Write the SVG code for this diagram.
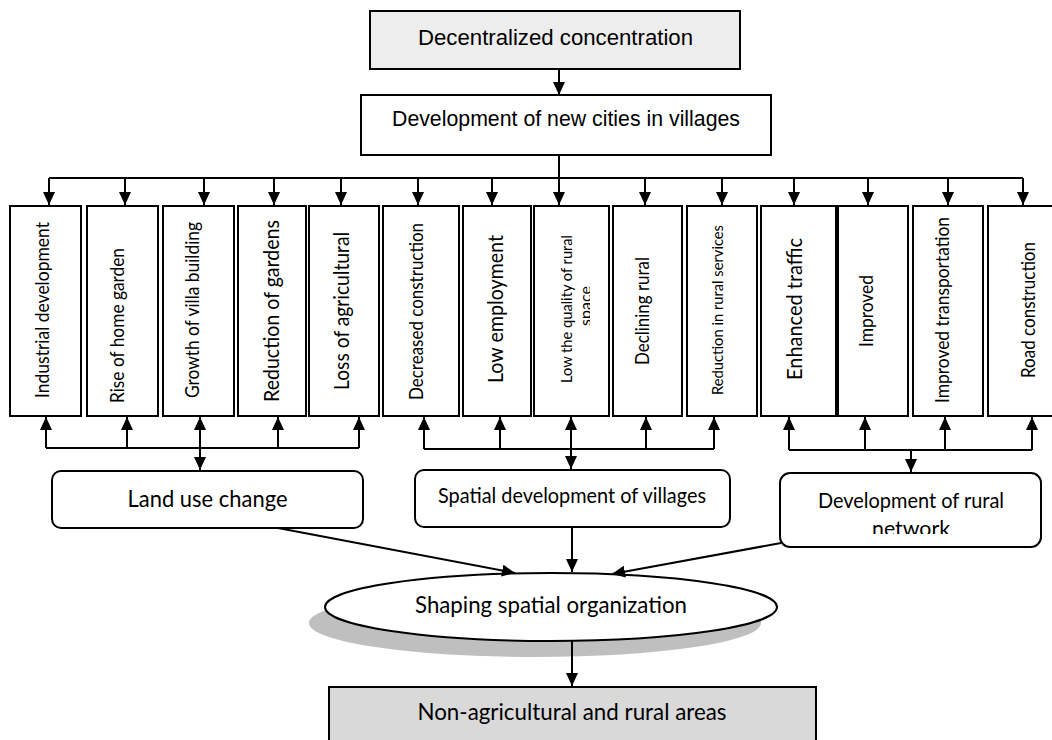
<svg xmlns="http://www.w3.org/2000/svg" width="1052" height="740" viewBox="0 0 1052 740">
<style>
.box{fill:#fff;stroke:#000;stroke-width:2}
.rbox{fill:#fff;stroke:#000;stroke-width:2}
.arial{font-family:"Liberation Sans",Arial,sans-serif;fill:#000}
.cal{font-family:Lato,"Open Sans",sans-serif;fill:#000}
.c{stroke:#000;stroke-width:2;fill:none}
</style>
<defs>
<marker id="ah" viewBox="0 0 13 12" refX="13" refY="6" markerWidth="13" markerHeight="12" markerUnits="userSpaceOnUse" orient="auto">
<path d="M0,0 L13,6 L0,12 z" fill="#000"/>
</marker>
<clipPath id="clip8"><rect x="534" y="206" width="56" height="210"/></clipPath>
<clipPath id="clipNet"><rect x="780" y="473" width="261" height="61"/></clipPath>
</defs>

<g id="n-decentralized">
<rect x="370" y="11" width="370" height="58" fill="#ededed" stroke="#000" stroke-width="2"/>
<text class="arial" x="555.5" y="45" font-size="22" text-anchor="middle" textLength="275" lengthAdjust="spacingAndGlyphs">Decentralized concentration</text>
</g>
<g id="n-newcities">
<rect class="box" x="361" y="95" width="410" height="60"/>
<text class="arial" x="566" y="126" font-size="21.33" text-anchor="middle" textLength="348" lengthAdjust="spacingAndGlyphs">Development of new cities in villages</text>
</g>

<g id="n-industrial"><rect class="box" x="10" y="206" width="71" height="210"/>
<text class="cal" transform="translate(48.5,310) rotate(-90)" font-size="18.67" text-anchor="middle" textLength="176" lengthAdjust="spacingAndGlyphs">Industrial development</text></g>
<g id="n-homegarden"><rect class="box" x="87" y="206" width="71" height="210"/>
<text class="cal" transform="translate(124,325.5) rotate(-90)" font-size="18.67" text-anchor="middle" textLength="155" lengthAdjust="spacingAndGlyphs">Rise of home garden</text></g>
<g id="n-villa"><rect class="box" x="163" y="206" width="71" height="210"/>
<text class="cal" transform="translate(199,310) rotate(-90)" font-size="18.67" text-anchor="middle" textLength="176" lengthAdjust="spacingAndGlyphs">Growth of villa building</text></g>
<g id="n-gardens"><rect class="box" x="238" y="206" width="68" height="210"/>
<text class="cal" transform="translate(278.5,311) rotate(-90)" font-size="21.33" text-anchor="middle" textLength="182" lengthAdjust="spacingAndGlyphs">Reduction of gardens</text></g>
<g id="n-agricultural"><rect class="box" x="309" y="206" width="70" height="210"/>
<text class="cal" transform="translate(348.5,311) rotate(-90)" font-size="21.33" text-anchor="middle" textLength="158" lengthAdjust="spacingAndGlyphs">Loss of agricultural</text></g>
<g id="n-construction"><rect class="box" x="383" y="206" width="76" height="210"/>
<text class="cal" transform="translate(423,311.5) rotate(-90)" font-size="18.67" text-anchor="middle" textLength="177" lengthAdjust="spacingAndGlyphs">Decreased construction</text></g>
<g id="n-employment"><rect class="box" x="463" y="206" width="68" height="210"/>
<text class="cal" transform="translate(502.5,309) rotate(-90)" font-size="21.33" text-anchor="middle" textLength="148" lengthAdjust="spacingAndGlyphs">Low employment</text></g>
<g id="n-quality"><rect class="box" x="534" y="206" width="75" height="210"/>
<g clip-path="url(#clip8)">
<text class="cal" transform="translate(571.5,309) rotate(-90)" font-size="16" text-anchor="middle" textLength="148" lengthAdjust="spacingAndGlyphs">Low the quality of rural</text>
<text class="cal" transform="translate(591,306) rotate(-90)" font-size="16" text-anchor="middle">space</text>
</g></g>
<g id="n-declining"><rect class="box" x="613" y="206" width="69" height="210"/>
<text class="cal" transform="translate(649,311) rotate(-90)" font-size="18.67" text-anchor="middle" textLength="108" lengthAdjust="spacingAndGlyphs">Declining rural</text></g>
<g id="n-services"><rect class="box" x="687" y="206" width="70" height="210"/>
<text class="cal" transform="translate(723,310) rotate(-90)" font-size="16" text-anchor="middle" textLength="170" lengthAdjust="spacingAndGlyphs">Reduction in rural services</text></g>
<g id="n-traffic"><rect class="box" x="761" y="206" width="75" height="210"/>
<text class="cal" transform="translate(802,309) rotate(-90)" font-size="21.33" text-anchor="middle" textLength="142" lengthAdjust="spacingAndGlyphs">Enhanced traffic</text></g>
<g id="n-improved"><rect class="box" x="838" y="206" width="70" height="210"/>
<text class="cal" transform="translate(873,311) rotate(-90)" font-size="18.67" text-anchor="middle" textLength="72" lengthAdjust="spacingAndGlyphs">Improved</text></g>
<g id="n-transport"><rect class="box" x="913" y="206" width="70" height="210"/>
<text class="cal" transform="translate(949,310) rotate(-90)" font-size="18.67" text-anchor="middle" textLength="186" lengthAdjust="spacingAndGlyphs">Improved transportation</text></g>
<g id="n-road"><rect class="box" x="988" y="206" width="80" height="210"/>
<text class="cal" transform="translate(1035,310) rotate(-90)" font-size="18.67" text-anchor="middle" textLength="136" lengthAdjust="spacingAndGlyphs">Road construction</text></g>

<g id="n-landuse"><rect class="rbox" x="52" y="471" width="311" height="57" rx="9"/>
<text class="cal" x="207.5" y="507" font-size="24" text-anchor="middle" textLength="160" lengthAdjust="spacingAndGlyphs">Land use change</text></g>
<g id="n-spatialdev"><rect class="rbox" x="415" y="470" width="315" height="57" rx="9"/>
<text class="cal" x="572" y="503" font-size="21.33" text-anchor="middle" textLength="268" lengthAdjust="spacingAndGlyphs">Spatial development of villages</text></g>
<g id="n-network"><rect class="rbox" x="780" y="473" width="261" height="74" rx="10"/>
<g clip-path="url(#clipNet)">
<text class="cal" x="911" y="508" font-size="21.33" text-anchor="middle" textLength="186" lengthAdjust="spacingAndGlyphs">Development of rural</text>
<text class="cal" x="911" y="536" font-size="21.33" text-anchor="middle">network</text>
</g></g>

<g id="n-shaping">
<ellipse cx="535" cy="623" rx="226" ry="34" fill="#bfbfbf"/>
<ellipse cx="551" cy="607" rx="226" ry="34" fill="#fff" stroke="#000" stroke-width="2"/>
<text class="cal" x="551" y="613" font-size="24" text-anchor="middle" textLength="272" lengthAdjust="spacingAndGlyphs">Shaping spatial organization</text>
</g>
<g id="n-nonagri">
<rect x="329" y="687" width="487" height="60" fill="#d9d9d9" stroke="#000" stroke-width="2"/>
<text class="cal" x="572" y="720" font-size="24" text-anchor="middle" textLength="309" lengthAdjust="spacingAndGlyphs">Non-agricultural and rural areas</text>
</g>

<g id="connectors">
<path class="c" d="M559,69 V95" marker-end="url(#ah)"/>
<path class="c" d="M559,155 V205" marker-end="url(#ah)"/>
<path class="c" d="M49,178 H1023"/>
<path class="c" d="M49,178 V205" marker-end="url(#ah)"/>
<path class="c" d="M125,178 V205" marker-end="url(#ah)"/>
<path class="c" d="M204,178 V205" marker-end="url(#ah)"/>
<path class="c" d="M274,178 V205" marker-end="url(#ah)"/>
<path class="c" d="M341,178 V205" marker-end="url(#ah)"/>
<path class="c" d="M418,178 V205" marker-end="url(#ah)"/>
<path class="c" d="M492,178 V205" marker-end="url(#ah)"/>
<path class="c" d="M645,178 V205" marker-end="url(#ah)"/>
<path class="c" d="M722,178 V205" marker-end="url(#ah)"/>
<path class="c" d="M794,178 V205" marker-end="url(#ah)"/>
<path class="c" d="M868,178 V205" marker-end="url(#ah)"/>
<path class="c" d="M948,178 V205" marker-end="url(#ah)"/>
<path class="c" d="M1023,178 V205" marker-end="url(#ah)"/>

<path class="c" d="M46,448 H359"/>
<path class="c" d="M46,448 V417" marker-end="url(#ah)"/>
<path class="c" d="M127,448 V417" marker-end="url(#ah)"/>
<path class="c" d="M200,448 V417" marker-end="url(#ah)"/>
<path class="c" d="M278,448 V417" marker-end="url(#ah)"/>
<path class="c" d="M359,448 V417" marker-end="url(#ah)"/>
<path class="c" d="M200,448 V470" marker-end="url(#ah)"/>

<path class="c" d="M424,449 H714"/>
<path class="c" d="M424,449 V417" marker-end="url(#ah)"/>
<path class="c" d="M500,449 V417" marker-end="url(#ah)"/>
<path class="c" d="M571,449 V417" marker-end="url(#ah)"/>
<path class="c" d="M646,449 V417" marker-end="url(#ah)"/>
<path class="c" d="M714,449 V417" marker-end="url(#ah)"/>
<path class="c" d="M571,449 V469" marker-end="url(#ah)"/>

<path class="c" d="M789,450 H1032"/>
<path class="c" d="M789,450 V417" marker-end="url(#ah)"/>
<path class="c" d="M865,450 V417" marker-end="url(#ah)"/>
<path class="c" d="M945,450 V417" marker-end="url(#ah)"/>
<path class="c" d="M1032,450 V417" marker-end="url(#ah)"/>
<path class="c" d="M911,450 V472" marker-end="url(#ah)"/>

<path class="c" d="M278,528 L515,573" marker-end="url(#ah)"/>
<path class="c" d="M572,527 V572" marker-end="url(#ah)"/>
<path class="c" d="M781,543 L612,574" marker-end="url(#ah)"/>
<path class="c" d="M572,641 V686" marker-end="url(#ah)"/>
</g>
</svg>
